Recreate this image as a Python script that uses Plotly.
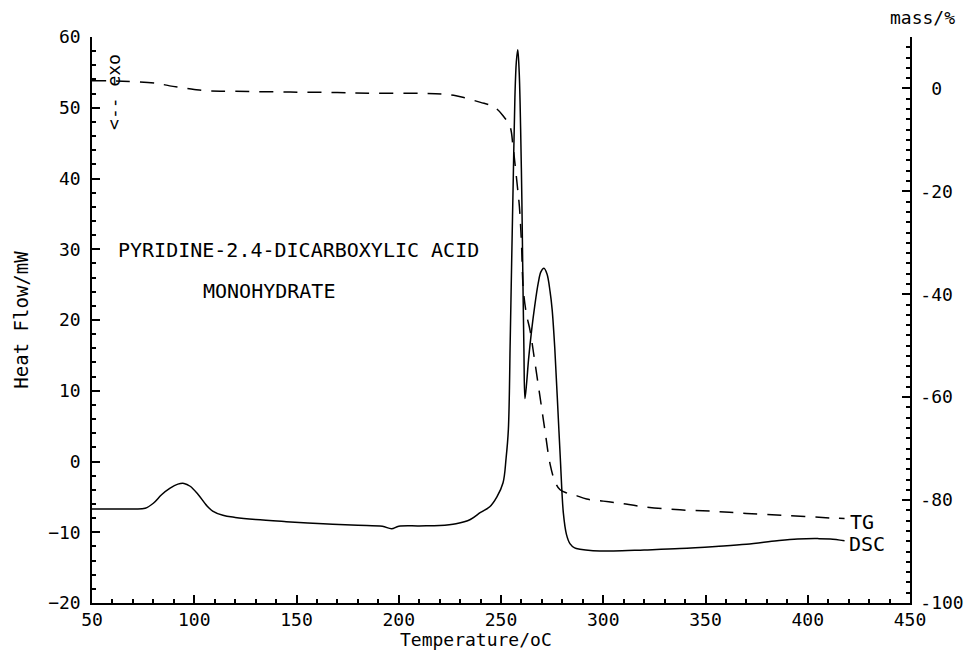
import plotly.graph_objects as go

# DSC curve (left axis, Heat Flow / mW)
dsc_temp = [50, 60, 70, 76, 80, 84, 88, 92, 95, 98, 102, 106, 109, 114, 120, 130, 145, 163,
            180, 192, 196.5, 200, 210, 220, 228, 235, 240, 244.5, 248, 251, 252.5, 253.6,
            254.5, 255.2, 256, 256.8, 257.5, 258.2, 258.9, 259.6, 260.2, 260.6, 261.2, 261.7,
            262.5, 263.5, 265, 266.5, 268.2, 269.5, 271, 272.5, 274, 275, 276.3, 277.5, 279,
            280.5, 282, 283.7, 286, 288.6, 295, 305, 320, 337.5, 355, 370, 385, 395, 405,
            411, 418]
dsc_flow = [-6.7, -6.7, -6.7, -6.6, -5.9, -4.7, -3.8, -3.2, -3.1, -3.5, -4.7, -6.2, -7.0,
            -7.6, -7.9, -8.2, -8.5, -8.8, -9.0, -9.15, -9.5, -9.15, -9.1, -9.05, -8.8, -8.2,
            -7.2, -6.4, -5.0, -3.0, 0.5, 4.5, 17, 28, 40, 51.5, 56.5, 58.2, 55, 47, 37, 28,
            16, 8.9, 11, 14.5, 18.6, 22, 25.2, 26.8, 27.3, 26.5, 24, 21.5, 16, 9.2, 0.5,
            -7.3, -10.3, -11.6, -12.2, -12.4, -12.6, -12.65, -12.5, -12.3, -12.0, -11.7,
            -11.2, -10.95, -10.9, -10.95, -11.2]

# TG curve (right axis, mass / %)
tg_temp = [50, 65, 81.6, 88, 93, 100, 106, 120, 147, 170, 188, 212, 222, 228, 233, 240, 245,
           248, 251, 254.4, 255.8, 256.8, 258, 259, 260, 260.9, 262.5, 264.2, 266.5, 269.1,
           271.5, 274, 276.5, 278.9, 282, 286, 291.9, 300, 308, 320, 337.5, 355, 370, 390,
           412.5, 418]
tg_mass = [1.5, 1.4, 1.0, 0.5, 0.2, -0.2, -0.45, -0.55, -0.7, -0.8, -0.95, -0.95, -1.1, -1.4,
           -1.9, -2.7, -3.3, -4.0, -5.3, -7.4, -11, -14.5, -19, -23, -30, -39, -44, -47, -53,
           -60, -66.5, -73, -76.5, -78, -78.6, -79, -79.8, -80.2, -80.6, -81.3, -81.9, -82.2,
           -82.6, -83.0, -83.5, -83.6]

x_ticks = [50, 100, 150, 200, 250, 300, 350, 400, 450]
y_left_ticks = [-20, -10, 0, 10, 20, 30, 40, 50, 60]
y_right_ticks = [-100, -80, -60, -40, -20, 0]
y_right_labels = ["-100", "-80", "-60", "-40", "-20", " 0"]

FONT = "DejaVu Sans Mono"
L, R, T, B = 92, 910, 37, 603   # plot-area pixel box


def px_to_paper(px, py):
    return (px - L) / (R - L), 1 - (py - T) / (B - T)


fig = go.Figure()
fig.add_trace(go.Scatter(x=dsc_temp, y=dsc_flow, mode="lines", name="DSC",
                         line=dict(color="black", width=1.5), line_shape="spline"))
fig.add_trace(go.Scatter(x=tg_temp, y=tg_mass, mode="lines", name="TG", yaxis="y2",
                         line=dict(color="black", width=1.5, dash="14px,10px"),
                         line_shape="spline"))

axis_common = dict(showgrid=False, zeroline=False, showline=True, linecolor="black",
                   linewidth=1.5, ticks="inside", tickcolor="black", ticklen=8,
                   tickwidth=1.5, automargin=False,
                   tickfont=dict(family=FONT, size=18, color="black"))

fig.update_layout(
    width=965, height=651,
    margin=dict(l=L, r=965 - R, t=T, b=651 - B),
    paper_bgcolor="white", plot_bgcolor="white",
    showlegend=False,
    font=dict(family=FONT, size=18, color="black"),
    xaxis=dict(range=[50, 450], tickvals=x_ticks, **axis_common, ticklabelstandoff=0,
               minor=dict(dtick=10, tick0=50, ticks="inside", ticklen=4, tickcolor="black")),
    yaxis=dict(range=[-20, 60], tickvals=y_left_ticks, **axis_common, ticklabelstandoff=6,
               minor=dict(dtick=2, tick0=0, ticks="inside", ticklen=4, tickcolor="black"),
               title=dict(text="Heat Flow/mW", font=dict(family=FONT, size=19), standoff=14)),
    yaxis2=dict(range=[-100, 10], tickvals=y_right_ticks, ticktext=y_right_labels,
                overlaying="y", side="right", **axis_common, ticklabelstandoff=5,
                minor=dict(dtick=2, tick0=0, ticks="inside", ticklen=4, tickcolor="black")),
)

texts = [
    ("PYRIDINE-2.4-DICARBOXYLIC ACID", 298, 250, "center", 20),
    ("MONOHYDRATE", 269, 291, "center", 20),
    ("Temperature/oC", 476, 639, "center", 18),
    ("mass/%", 888, 18, "left", 18),
]
for txt, px, py, anchor, size in texts:
    xp, yp = px_to_paper(px, py)
    fig.add_annotation(text=txt, x=xp, y=yp, xref="paper", yref="paper",
                       showarrow=False, font=dict(family=FONT, size=size, color="black"),
                       xanchor=anchor, yanchor="middle")

fig.add_annotation(text="<-- exo", x=60.5, y=52.3, xref="x", yref="y", showarrow=False,
                   textangle=-90, font=dict(family=FONT, size=18, color="black"),
                   xanchor="center", yanchor="middle")
fig.add_annotation(text="TG", x=tg_temp[-1] + 1.5, y=tg_mass[-1] - 0.6, xref="x", yref="y2",
                   showarrow=False, xanchor="left", yanchor="middle",
                   font=dict(family=FONT, size=20, color="black"))
fig.add_annotation(text="DSC", x=dsc_temp[-1] + 1, y=dsc_flow[-1] - 0.5, xref="x", yref="y",
                   showarrow=False, xanchor="left", yanchor="middle",
                   font=dict(family=FONT, size=20, color="black"))

fig.write_html("out.html")
